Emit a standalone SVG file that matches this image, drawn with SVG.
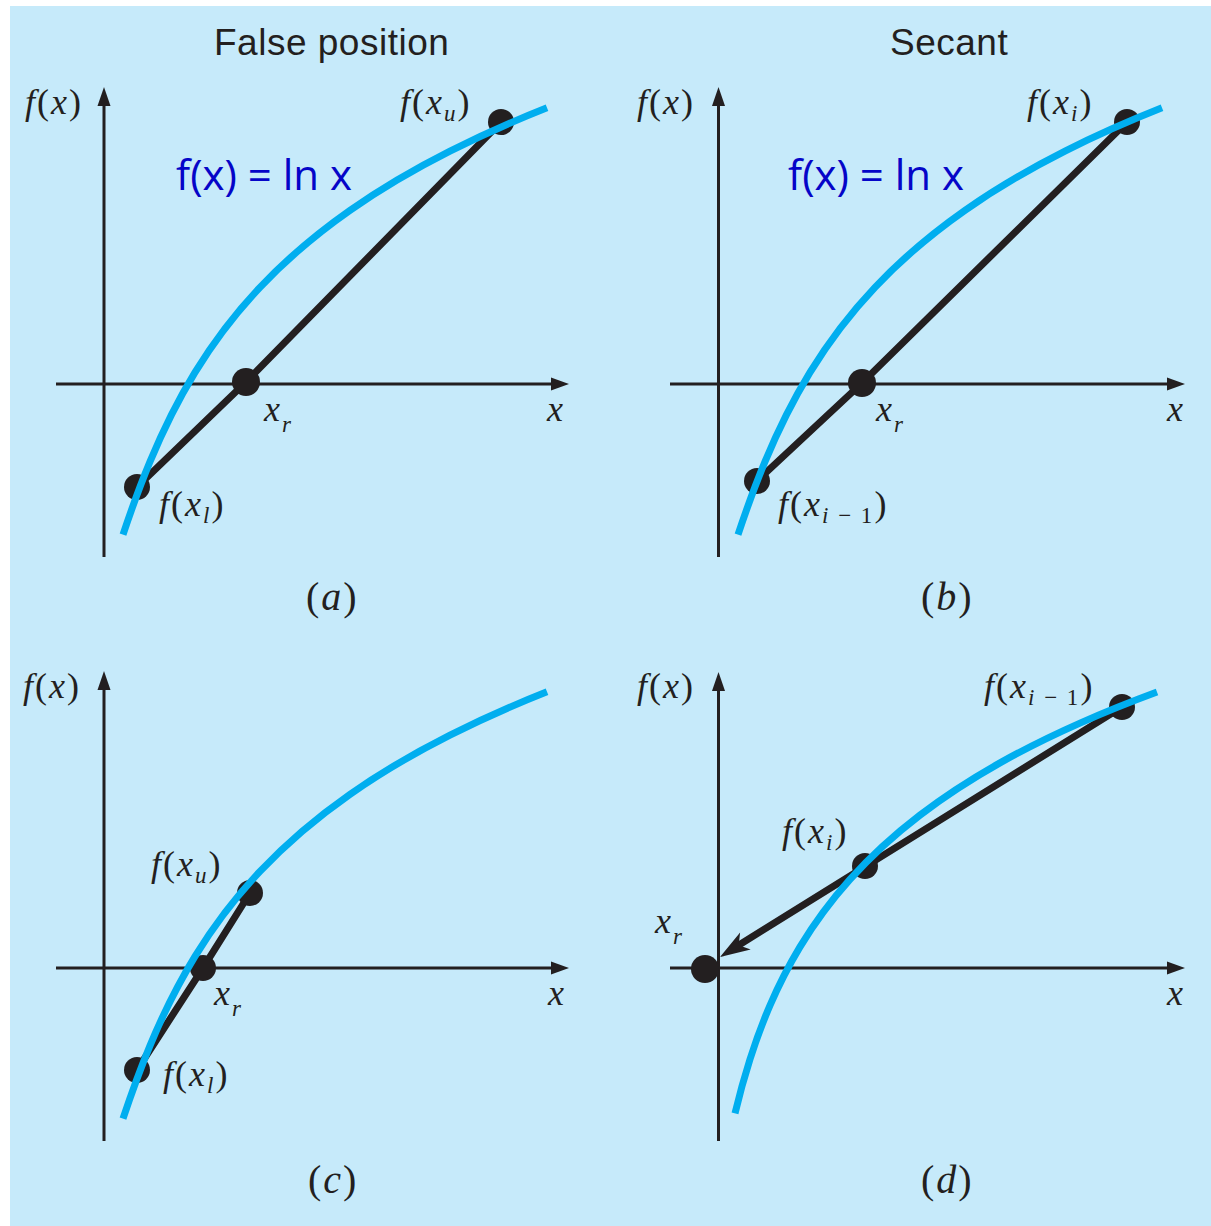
<svg xmlns="http://www.w3.org/2000/svg" width="1211" height="1226" viewBox="0 0 1211 1226">
<style>
.ax{stroke:#231F20;stroke-width:3;fill:none}
.ah{fill:#231F20}
.crv{stroke:#00AEEF;stroke-width:7;fill:none;stroke-linecap:butt}
.sec{stroke:#231F20;stroke-width:7;fill:none;stroke-linecap:round;stroke-linejoin:round}
.dot{fill:#231F20}
.m{font-family:"Liberation Serif","Times New Roman",serif;font-size:36px;fill:#231F20;letter-spacing:2px}
.i{font-style:italic}
.s{font-size:23px}
.c{font-size:40px}
.t{font-family:"Liberation Sans",Arial,sans-serif;font-size:37px;fill:#231F20;letter-spacing:0.5px}
.fn{font-family:"Open Sans","Liberation Sans",sans-serif;font-size:42px;fill:#0505C8}
</style>
<defs>
<path id="lncurve" d="M123,534.7 C132,507.7 141,483.3 150,461.6 C165,425.5 180,396.8 195,372.3 C216.7,337 238.3,310.2 260,287.3 C290,255.6 320,231.3 350,210.3 C383.3,187 416.7,167.9 450,151.1 C482.3,134.8 514.7,120.6 547,107.8"/>
</defs>
<rect x="10" y="6" width="1201" height="1220" fill="#C6EAFA"/>

<text class="t" x="214" y="55">False position</text>
<text class="t" x="890" y="55">Secant</text>

<!-- Panel a -->
<g id="panel-a">
<line class="ax" x1="56" y1="384" x2="556" y2="384"/>
<polygon class="ah" points="569,384 551,377.5 551,390.5"/>
<line class="ax" x1="104" y1="557" x2="104" y2="104"/>
<polygon class="ah" points="104,87 97.5,106 110.5,106"/>
<text class="m" x="25" y="114"><tspan class="i">f</tspan>(<tspan class="i">x</tspan>)</text>
<text class="m i" x="547" y="421">x</text>
<text class="fn" x="176" y="190">f(x) = ln x</text>
</g>

<!-- Panel b -->
<g id="panel-b">
<line class="ax" x1="670" y1="384" x2="1172" y2="384"/>
<polygon class="ah" points="1185,384 1167,377.5 1167,390.5"/>
<line class="ax" x1="718.5" y1="557" x2="718.5" y2="104"/>
<polygon class="ah" points="718.5,87 712,106 725,106"/>
<text class="m" x="637" y="114"><tspan class="i">f</tspan>(<tspan class="i">x</tspan>)</text>
<text class="m i" x="1167" y="421">x</text>
<text class="fn" x="788" y="190">f(x) = ln x</text>
</g>

<!-- Panel c -->
<g id="panel-c">
<line class="ax" x1="56" y1="968" x2="556" y2="968"/>
<polygon class="ah" points="569,968 551,961.5 551,974.5"/>
<line class="ax" x1="104" y1="1141" x2="104" y2="688"/>
<polygon class="ah" points="104,671 97.5,690 110.5,690"/>
<text class="m" x="23" y="698"><tspan class="i">f</tspan>(<tspan class="i">x</tspan>)</text>
<text class="m i" x="548" y="1005">x</text>
</g>

<!-- Panel d -->
<g id="panel-d">
<line class="ax" x1="670" y1="968" x2="1172" y2="968"/>
<polygon class="ah" points="1185,968 1167,961.5 1167,974.5"/>
<line class="ax" x1="718.5" y1="1141" x2="718.5" y2="688"/>
<polygon class="ah" points="718.5,672 712,691 725,691"/>
<text class="m" x="637" y="698"><tspan class="i">f</tspan>(<tspan class="i">x</tspan>)</text>
<text class="m i" x="1167" y="1005">x</text>
</g>

<!-- Secant / false-position lines -->
<g id="connectors">
<polyline class="sec" points="137,487 246,382 501,122"/>
<polyline class="sec" points="757,481 862,383 1127,122"/>
<polyline class="sec" points="137,1070 203,968 250,893"/>
<line class="sec" x1="1122" y1="707" x2="739" y2="945"/>
<polygon class="ah" points="720,957 740.1,932.6 738.7,945.3 750.7,949.6"/>
</g>

<!-- Points -->
<g id="point-a-xl"><circle class="dot" cx="137" cy="487" r="13"/><text class="m" x="159" y="516"><tspan class="i">f</tspan>(<tspan class="i">x</tspan><tspan class="i s" dy="7">l</tspan><tspan dy="-7">)</tspan></text></g>
<g id="point-a-xr"><circle class="dot" cx="246" cy="382" r="14"/><text class="m i" x="264" y="421">x<tspan class="s" dy="11">r</tspan></text></g>
<g id="point-a-xu"><circle class="dot" cx="501" cy="122" r="13"/><text class="m" x="400" y="114"><tspan class="i">f</tspan>(<tspan class="i">x</tspan><tspan class="i s" dy="7">u</tspan><tspan dy="-7">)</tspan></text></g>

<g id="point-b-xim1"><circle class="dot" cx="757" cy="481" r="13"/><text class="m" x="778" y="516"><tspan class="i">f</tspan>(<tspan class="i">x</tspan><tspan class="i s" dy="7">i</tspan><tspan class="s"> − 1</tspan><tspan dy="-7">)</tspan></text></g>
<g id="point-b-xr"><circle class="dot" cx="862" cy="383" r="14"/><text class="m i" x="876" y="421">x<tspan class="s" dy="11">r</tspan></text></g>
<g id="point-b-xi"><circle class="dot" cx="1127" cy="122" r="13"/><text class="m" x="1027" y="114"><tspan class="i">f</tspan>(<tspan class="i">x</tspan><tspan class="i s" dy="7">i</tspan><tspan dy="-7">)</tspan></text></g>

<g id="point-c-xl"><circle class="dot" cx="137" cy="1070" r="13"/><text class="m" x="163" y="1086"><tspan class="i">f</tspan>(<tspan class="i">x</tspan><tspan class="i s" dy="7">l</tspan><tspan dy="-7">)</tspan></text></g>
<g id="point-c-xr"><circle class="dot" cx="203" cy="968" r="13"/><text class="m i" x="214" y="1005">x<tspan class="s" dy="11">r</tspan></text></g>
<g id="point-c-xu"><circle class="dot" cx="250" cy="893" r="13"/><text class="m" x="151" y="876"><tspan class="i">f</tspan>(<tspan class="i">x</tspan><tspan class="i s" dy="7">u</tspan><tspan dy="-7">)</tspan></text></g>

<g id="point-d-xim1"><circle class="dot" cx="1122" cy="707" r="13"/><text class="m" x="984" y="698"><tspan class="i">f</tspan>(<tspan class="i">x</tspan><tspan class="i s" dy="7">i</tspan><tspan class="s"> − 1</tspan><tspan dy="-7">)</tspan></text></g>
<g id="point-d-xi"><circle class="dot" cx="865" cy="866" r="13"/><text class="m" x="782" y="843"><tspan class="i">f</tspan>(<tspan class="i">x</tspan><tspan class="i s" dy="7">i</tspan><tspan dy="-7">)</tspan></text></g>
<g id="point-d-xr"><circle class="dot" cx="705" cy="969" r="14"/><text class="m i" x="655" y="933">x<tspan class="s" dy="11">r</tspan></text></g>

<!-- Curves f(x) = ln x -->
<g id="curves">
<use href="#lncurve" class="crv"/>
<use href="#lncurve" class="crv" transform="translate(615,0)"/>
<use href="#lncurve" class="crv" transform="translate(0,584)"/>
<path class="crv" d="M735,1113.4 C740,1092.5 745,1074.9 750,1059.2 C756.7,1038.3 763.3,1020.9 770,1005.4 C780,982.2 790,963.5 800,946.9 C816.7,919.3 833.3,898 850,879.4 C873.3,853.4 896.7,832.9 920,815.1 C946.7,794.7 973.3,777.9 1000,762.9 C1026.7,747.9 1053.3,734.9 1080,723.1 C1105.7,711.7 1131.3,701.5 1157,692"/>
</g>

<!-- Panel captions -->
<text class="m c" x="306" y="610">(<tspan class="i">a</tspan>)</text>
<text class="m c" x="921" y="610">(<tspan class="i">b</tspan>)</text>
<text class="m c" x="308" y="1193">(<tspan class="i">c</tspan>)</text>
<text class="m c" x="921" y="1193">(<tspan class="i">d</tspan>)</text>
</svg>
